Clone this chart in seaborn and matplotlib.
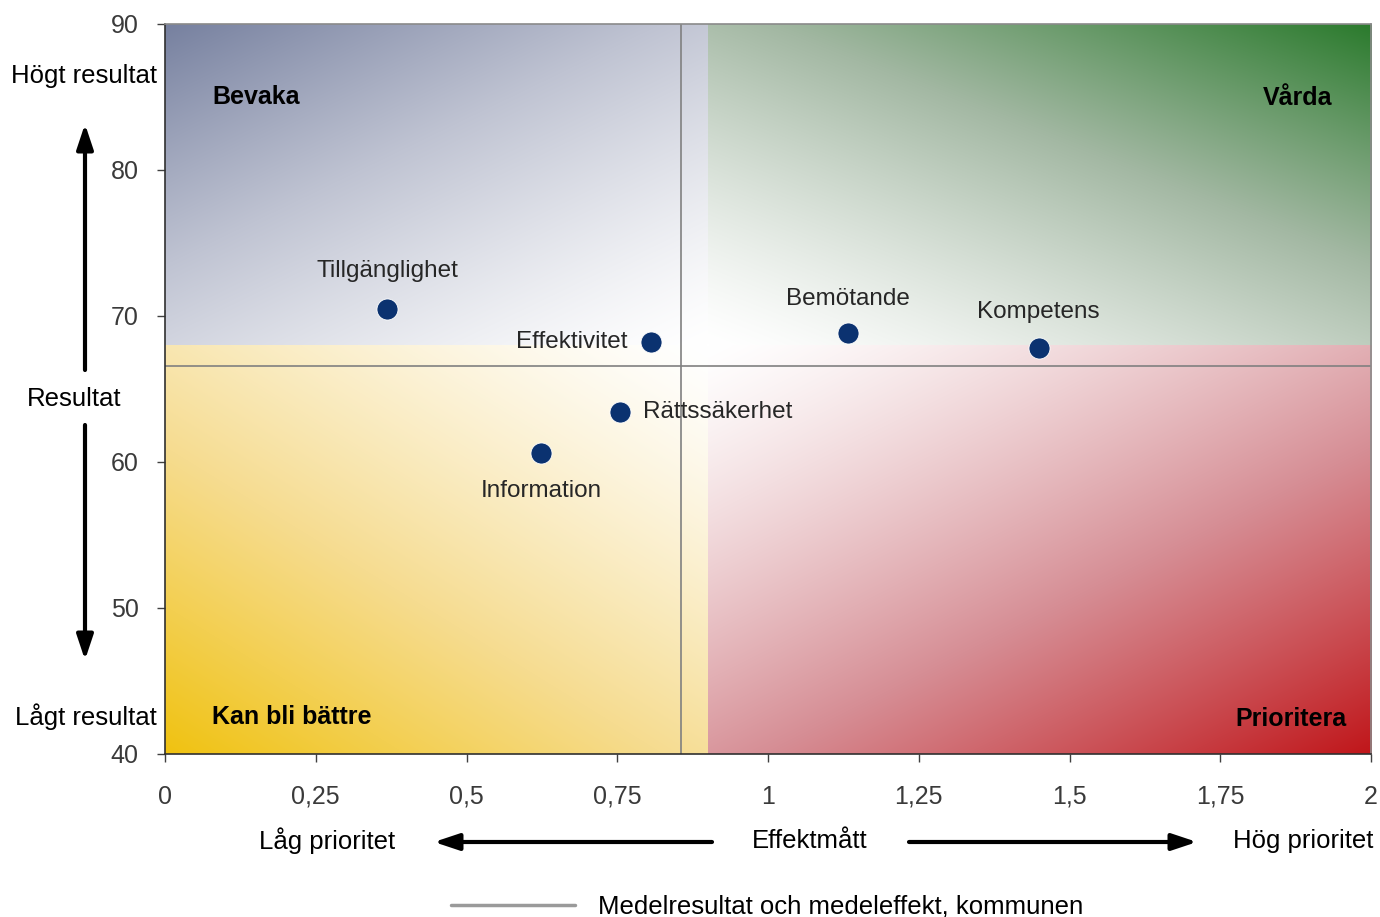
import numpy as np
import matplotlib
matplotlib.use("Agg")
import matplotlib.pyplot as plt
import seaborn as sns
import pandas as pd
from matplotlib.colors import to_rgb

# data
omraden = ["Tillgänglighet", "Effektivitet", "Bemötande", "Kompetens", "Rättssäkerhet", "Information"]
effekt = [0.368, 0.806, 1.133, 1.449, 0.755, 0.624]
resultat = [70.5, 68.2, 68.8, 67.8, 63.4, 60.6]

medel_effekt = 0.856
medel_resultat = 66.6

x_ticks = [0, 0.25, 0.5, 0.75, 1, 1.25, 1.5, 1.75, 2]
x_ticklabels = ["0", "0,25", "0,5", "0,75", "1", "1,25", "1,5", "1,75", "2"]
y_ticks = [40, 50, 60, 70, 80, 90]

kvadranter = ["Bevaka", "Vårda", "Kan bli bättre", "Prioritera"]

# label placement (offset in points, alignment)
label_pos = {
    "Tillgänglighet": ((0, 27), "center", "center"),
    "Effektivitet": ((-17, 0), "right", "center"),
    "Bemötande": ((0, 25), "center", "center"),
    "Kompetens": ((0, 26), "center", "center"),
    "Rättssäkerhet": ((16, 0), "left", "center"),
    "Information": ((0, -27), "center", "center"),
}

df = pd.DataFrame({"omrade": omraden, "effekt": effekt, "resultat": resultat})

sns.set_style("white")
plt.rcParams["font.family"] = ["Liberation Sans", "DejaVu Sans"]
plt.rcParams["text.color"] = "black"

fig = plt.figure(figsize=(13.8, 9.17), dpi=100)
ax = fig.add_axes([0.1196, 0.1778, 0.8739, 0.7961])


def gradient(color, mid, flip_x, flip_y, n=256):
    # white -> mid -> corner colour, diagonal from the coloured corner
    u = np.linspace(0, 1, n)
    U, V = np.meshgrid(u, u)
    t = np.clip(1 - (0.45 * U + 0.55 * V), 0, 1) ** 1.3
    c = np.array(to_rgb(color))
    m = np.array(to_rgb(mid))
    w = np.ones(3)
    t = t[..., None]
    lo = w + (m - w) * np.clip(t / 0.5, 0, 1)
    hi = m + (c - m) * np.clip((t - 0.5) / 0.5, 0, 1)
    img = np.where(t < 0.5, lo, hi)
    if flip_x:
        img = img[:, ::-1]
    if flip_y:
        img = img[::-1]
    return img


bx, by = 0.9, 68
bakgrund = [
    ((0, bx, by, 90), "#76809f", "#bfc3d2", False, False),
    ((bx, 2, by, 90), "#2a7a2c", "#a3b8a3", True, False),
    ((0, bx, 40, by), "#f0c210", "#f6dc90", False, True),
    ((bx, 2, 40, by), "#c0161a", "#d68e95", True, True),
]
for ext, col, mid, fx, fy in bakgrund:
    ax.imshow(gradient(col, mid, fx, fy), extent=ext, origin="upper",
              aspect="auto", zorder=0, interpolation="bilinear")

ax.axvline(medel_effekt, color="#808080", lw=1.2, zorder=1,
           label="Medelresultat och medeleffekt, kommunen")
ax.axhline(medel_resultat, color="#808080", lw=1.2, zorder=1)

sns.scatterplot(data=df, x="effekt", y="resultat", ax=ax, s=230,
                color="#0b3270", edgecolor="white", linewidth=0.6, zorder=3)

for _, r in df.iterrows():
    off, ha, va = label_pos[r["omrade"]]
    ax.annotate(r["omrade"], (r["effekt"], r["resultat"]), xytext=off,
                textcoords="offset points", ha=ha, va=va, fontsize=17.5,
                color="#262626")

ax.text(0.078, 85.0, kvadranter[0], fontsize=18, fontweight="bold", va="center", ha="left")
ax.text(1.935, 84.9, kvadranter[1], fontsize=18, fontweight="bold", va="center", ha="right")
ax.text(0.078, 42.5, kvadranter[2], fontsize=18, fontweight="bold", va="center", ha="left")
ax.text(1.959, 42.4, kvadranter[3], fontsize=18, fontweight="bold", va="center", ha="right")

ax.set_xlim(0, 2)
ax.set_ylim(40, 90)
ax.set_xticks(x_ticks)
ax.set_xticklabels(x_ticklabels)
ax.set_yticks(y_ticks)
ax.set_xlabel("")
ax.set_ylabel("")
ax.tick_params(axis="both", labelsize=18, labelcolor="#3a3a3a", color="#404040",
               length=6, width=1, direction="out", left=True, bottom=True)
ax.tick_params(axis="x", pad=16)
ax.tick_params(axis="y", pad=13)
for side in ["left", "bottom"]:
    ax.spines[side].set_color("#303030")
    ax.spines[side].set_linewidth(1.2)
for side in ["top", "right"]:
    ax.spines[side].set_color("#8a8a8a")
    ax.spines[side].set_linewidth(1.2)

# axis descriptions and arrows around the plot
fs = 18.5
fig.text(84 / 1380, 1 - 76 / 917, "Högt resultat", fontsize=fs, ha="center", va="center")
fig.text(74 / 1380, 1 - 399 / 917, "Resultat", fontsize=fs, ha="center", va="center")
fig.text(86 / 1380, 1 - 717 / 917, "Lågt resultat", fontsize=fs, ha="center", va="center")
fig.text(327 / 1380, 1 - 841 / 917, "Låg prioritet", fontsize=fs, ha="center", va="center")
fig.text(810 / 1380, 1 - 841 / 917, "Effektmått", fontsize=fs, ha="center", va="center")
fig.text(1303 / 1380, 1 - 841 / 917, "Hög prioritet", fontsize=fs, ha="center", va="center")

pil = dict(arrowstyle="-|>,head_length=0.75,head_width=0.25", lw=3, color="black",
           shrinkA=0, shrinkB=0, mutation_scale=20)
for (x0, y0), (x1, y1) in [((85, 370), (85, 124)), ((85, 425), (85, 660)),
                           ((712, 842), (434, 842)), ((909, 842), (1197, 842))]:
    ax.annotate("", xy=(x1 / 1380, 1 - y1 / 917), xytext=(x0 / 1380, 1 - y0 / 917),
                xycoords="figure fraction", textcoords="figure fraction",
                arrowprops=pil, annotation_clip=False)

leg = ax.legend(loc="center", bbox_to_anchor=(0.556, 0.011),
                bbox_transform=fig.transFigure, frameon=False, fontsize=fs,
                handlelength=4.8, handletextpad=0.9)
leg.get_lines()[0].set_linewidth(2.5)
leg.get_lines()[0].set_color("#9a9a9a")

fig.savefig("out.png", dpi=100)
